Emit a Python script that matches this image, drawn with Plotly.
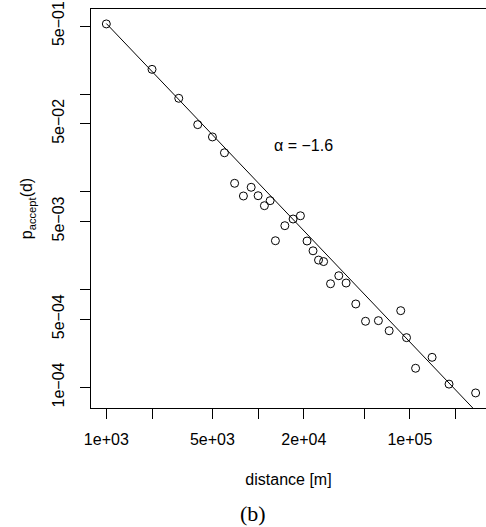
import plotly.graph_objects as go

# ---- data ----
distance_m = [1000, 2000, 3000, 4000, 5000, 6000, 7000, 8000, 9000, 10000,
              11000, 12000, 13000, 15000, 17000, 19000, 21000, 23000, 25000, 27000,
              30000, 34000, 38000, 44000, 51000, 62000, 73000, 87000, 95000, 109000,
              140000, 181000, 271000]
p_accept = [0.525, 0.180, 0.091, 0.0489, 0.0366, 0.0252, 0.01227, 0.0091, 0.01117, 0.00916,
            0.00724, 0.00815, 0.00317, 0.00452, 0.00529, 0.00571, 0.00315, 0.0025, 0.00201, 0.00194,
            0.00115, 0.00139, 0.00117, 0.000714, 0.000475, 0.000482, 0.00038, 0.00061, 0.000323, 0.000157,
            0.000203, 0.000108, 0.0000877]

fit_x = [1000, 300000]
fit_y = [0.53, 0.0000486]
alpha_label = "α = −1.6"

x_tickvals = [1000, 5000, 20000, 100000]
x_ticktext = ["1e+03", "5e+03", "2e+04", "1e+05"]
x_minorvals = [2000, 10000, 50000, 200000]
y_tickvals = [0.5, 0.05, 0.005, 0.0005, 0.0001]
y_ticktext = ["5e\u221201", "5e\u221202", "5e\u221203", "5e\u221204", "1e\u221204"]
y_minorvals = [0.1, 0.01, 0.001]

FONT = "Liberation Sans, Arial, Helvetica, sans-serif"

fig = go.Figure()
fig.add_trace(go.Scatter(x=fit_x, y=fit_y, mode="lines",
                         line=dict(color="black", width=1), showlegend=False,
                         hoverinfo="skip"))
fig.add_trace(go.Scatter(x=distance_m, y=p_accept, mode="markers",
                         marker=dict(symbol="circle-open", size=8,
                                     color="black", line=dict(color="black", width=1)),
                         showlegend=False, cliponaxis=False))

fig.update_layout(
    width=486, height=527,
    margin=dict(l=91, r=0, t=9, b=119, pad=0),
    paper_bgcolor="white", plot_bgcolor="white",
    font=dict(family=FONT, size=16, color="black"),
    showlegend=False,
)

fig.update_xaxes(
    type="log", range=[2.899, 5.5013], autorange=False,
    showgrid=False, zeroline=False,
    showline=True, linecolor="black", linewidth=1, mirror=True,
    ticks="outside", ticklen=10, tickwidth=1, tickcolor="black",
    tickmode="array", tickvals=x_tickvals, ticktext=x_ticktext,
    minor=dict(tickmode="array", tickvals=x_minorvals, ticks="outside",
               ticklen=10, tickwidth=1, tickcolor="black", showgrid=False),
    tickfont=dict(family=FONT, size=16),
    ticklabelstandoff=7,
    automargin=False,
    title=dict(text="distance [m]", font=dict(family=FONT, size=16), standoff=26),
)
fig.update_yaxes(
    type="log", range=[-4.211, -0.127], autorange=False,
    showgrid=False, zeroline=False,
    showline=True, linecolor="black", linewidth=1, mirror=False,
    ticks="outside", ticklen=10, tickwidth=1, tickcolor="black",
    tickmode="array", tickvals=y_tickvals, ticktext=y_ticktext, tickangle=-90,
    minor=dict(tickmode="array", tickvals=y_minorvals, ticks="outside",
               ticklen=10, tickwidth=1, tickcolor="black", showgrid=False),
    tickfont=dict(family=FONT, size=16),
    ticklabelstandoff=10,
    automargin=False,
    title=dict(text="p<sub>accept</sub>(d)", font=dict(family=FONT, size=16), standoff=12),
)

fig.add_annotation(text=alpha_label, xref="paper", yref="paper",
                   x=(303 - 91) / (486 - 91), y=(408 - 145.7) / (408 - 9),
                   xanchor="center", yanchor="middle", showarrow=False,
                   font=dict(family=FONT, size=16, color="black"))
fig.add_annotation(text="(b)", xref="paper", yref="paper",
                   x=(253 - 91) / (486 - 91), y=(408 - 513) / (408 - 9),
                   xanchor="center", yanchor="middle", showarrow=False,
                   font=dict(family="Liberation Serif, DejaVu Serif, serif", size=22, color="black"))

fig.write_html("out.html")
